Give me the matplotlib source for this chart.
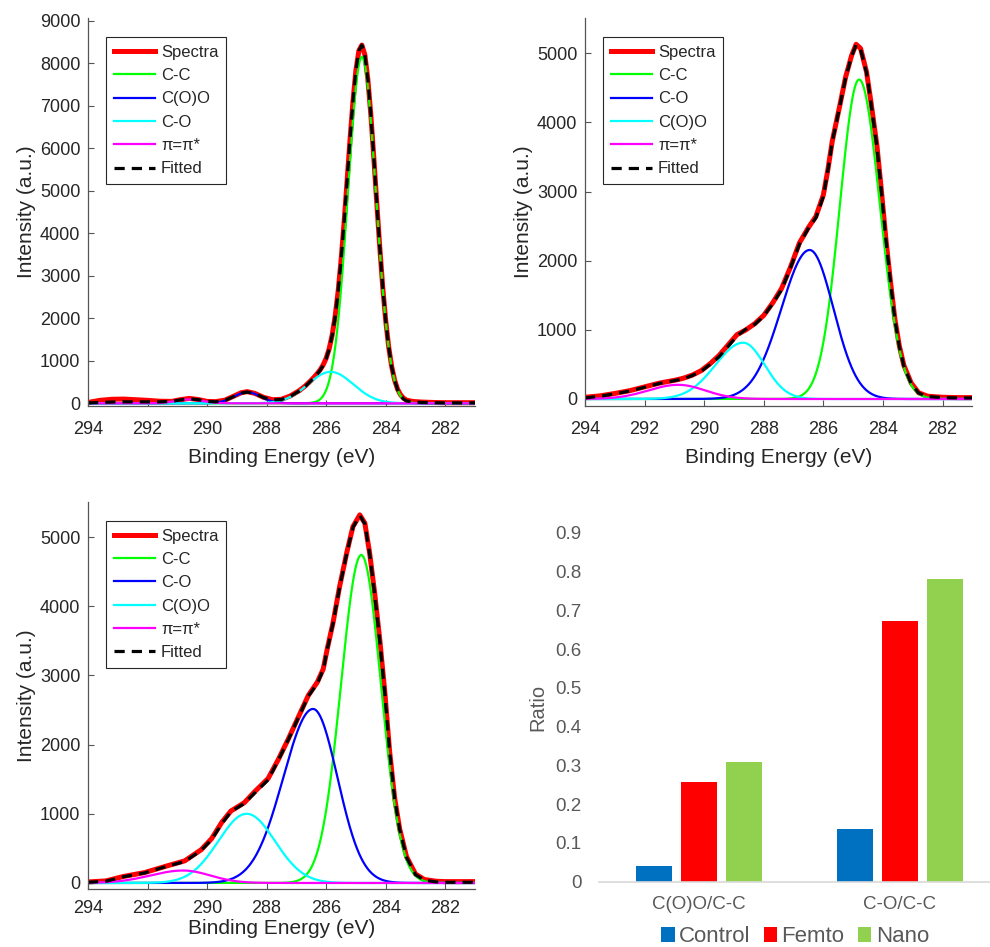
import numpy as np
import matplotlib
matplotlib.use('Agg')
import matplotlib.pyplot as plt

plt.rcParams['font.family'] = ['Liberation Sans', 'DejaVu Sans']

# ---------------- data ----------------
# panel (a): measured spectrum / fitted envelope (binding energy eV, intensity a.u.)
e1 = [294.0, 293.6, 293.2, 292.8, 292.4, 292.0, 291.6, 291.2, 290.9, 290.6, 290.3, 290.0,
      289.7, 289.4, 289.1, 288.85, 288.65, 288.4, 288.1, 287.8, 287.5, 287.2, 286.9, 286.7,
      286.5, 286.4, 286.3, 286.2, 286.1, 286.0, 285.9, 285.8, 285.7, 285.6, 285.5, 285.4,
      285.3, 285.2, 285.1, 285.0, 284.9, 284.8, 284.7, 284.6, 284.5, 284.4, 284.3, 284.2,
      284.1, 284.0, 283.9, 283.8, 283.7, 283.6, 283.5, 283.4, 283.3, 283.1, 282.8, 282.4,
      282.0, 281.5, 281.0]
spec1 = [20, 70, 95, 100, 85, 70, 50, 45, 85, 115, 90, 45,
         40, 75, 170, 250, 275, 235, 140, 85, 95, 175, 300, 410,
         545, 620, 700, 790, 905, 1060, 1280, 1600, 2040, 2620, 3360, 4230,
         5200, 6190, 7100, 7840, 8300, 8430, 8200, 7630, 6800, 5790, 4720, 3680,
         2740, 1950, 1330, 870, 545, 330, 200, 120, 75, 45, 30, 20,
         15, 15, 15]
fit1 = [10, 20, 30, 35, 35, 35, 35, 45, 80, 105, 85, 45,
        35, 70, 160, 240, 265, 230, 135, 80, 90, 165, 290, 400,
        535, 610, 690, 780, 895, 1050, 1270, 1590, 2030, 2615, 3355, 4225,
        5195, 6185, 7100, 7840, 8300, 8430, 8200, 7630, 6800, 5790, 4720, 3680,
        2740, 1950, 1330, 865, 540, 322, 185, 100, 55, 35, 20, 15,
        10, 10, 10]
# fitted components: name, centre, height, width below / above centre
comp1_names = ['C-C', 'C(O)O', 'C-O', 'π=π*']
comp1_center = [284.8, 288.65, 285.85, 290.6]
comp1_height = [8150, 260, 740, 90]
comp1_sig_lo = [0.47, 0.45, 0.76, 0.45]
comp1_sig_hi = [0.47, 0.45, 0.76, 0.45]

# panel (b)
e2 = [294.0, 293.5, 293.0, 292.5, 292.0, 291.5, 291.0, 290.7, 290.4, 290.1, 289.8, 289.5,
      289.2, 288.9, 288.6, 288.3, 288.0, 287.7, 287.4, 287.1, 286.8, 286.5, 286.25, 286.0,
      285.85, 285.7, 285.45, 285.25, 285.05, 284.9, 284.75, 284.55, 284.4, 284.2, 284.05,
      283.9, 283.75, 283.6, 283.45, 283.3, 283.05, 282.8, 282.5, 282.0, 281.5, 281.0]
spec2 = [25, 45, 80, 120, 175, 230, 270, 300, 345, 410, 510, 630,
         780, 930, 1000, 1090, 1210, 1390, 1600, 1910, 2260, 2480, 2640, 2950,
         3310, 3730, 4240, 4660, 4970, 5130, 5070, 4730, 4290, 3660, 3010,
         2310, 1710, 1160, 770, 490, 230, 90, 40, 25, 20, 20]
fit2 = [15, 40, 75, 115, 170, 225, 265, 290, 340, 400, 500, 610,
        760, 910, 1010, 1080, 1200, 1380, 1580, 1900, 2240, 2470, 2620, 2930,
        3300, 3720, 4230, 4650, 4960, 5120, 5060, 4720, 4280, 3650, 3000,
        2300, 1700, 1150, 760, 480, 220, 85, 35, 20, 15, 15]
comp2_names = ['C-C', 'C-O', 'C(O)O', 'π=π*']
comp2_center = [284.8, 286.46, 288.69, 290.87]
comp2_height = [4620, 2155, 814, 205]
comp2_sig_lo = [0.70, 0.80, 0.72, 0.90]
comp2_sig_hi = [0.645, 0.95, 0.93, 1.0]

# panel (c)
e3 = [294.0, 293.4, 292.8, 292.1, 291.4, 290.75, 290.2, 289.85, 289.5, 289.2, 288.75, 288.4,
      287.95, 287.6, 287.25, 286.9, 286.6, 286.3, 286.1, 285.95, 285.77, 285.55, 285.3, 285.1,
      284.87, 284.7, 284.54, 284.37, 284.2, 284.03, 283.87, 283.7, 283.53, 283.3, 283.0,
      282.7, 282.3, 282.0, 281.5, 281.0]
spec3 = [15, 30, 95, 150, 240, 320, 480, 640, 880, 1040, 1160, 1320,
         1510, 1790, 2100, 2430, 2710, 2900, 3090, 3410, 3760, 4280, 4790, 5150,
         5320, 5200, 4770, 4190, 3520, 2760, 1910, 1230, 780, 380, 130,
         50, 25, 20, 20, 20]
fit3 = [10, 25, 90, 145, 235, 310, 470, 625, 860, 1030, 1150, 1300,
        1490, 1780, 2090, 2420, 2700, 2880, 3080, 3400, 3750, 4270, 4780, 5140,
        5310, 5190, 4760, 4180, 3510, 2750, 1900, 1220, 770, 370, 120,
        40, 15, 10, 10, 10]
comp3_names = ['C-C', 'C-O', 'C(O)O', 'π=π*']
comp3_center = [284.82, 286.44, 288.67, 290.8]
comp3_height = [4740, 2515, 1000, 180]
comp3_sig_lo = [0.66, 0.82, 0.95, 0.90]
comp3_sig_hi = [0.68, 1.0, 0.95, 1.1]

# panel (d): peak area ratios
ratio_groups = ['C(O)O/C-C', 'C-O/C-C']
ratio_control = [0.041, 0.135]
ratio_femto = [0.256, 0.672]
ratio_nano = [0.308, 0.780]

# ---------------- figure ----------------
W, H = 990, 947
fig = plt.figure(figsize=(W / 100, H / 100), dpi=100)

AX_COL = '#555555'
TXT = '#262626'


def px_axes(left, top, right, bottom):
    return fig.add_axes([left / W, 1 - bottom / H, (right - left) / W, (bottom - top) / H])


def xps_panel(ax, e, spec, fit, names, cols, cen, hgt, slo, shi, ylim, ymax_tick,
              xpad=11, xlabpad=7):
    x = np.linspace(294, 281, 1301)
    ax.plot(e, spec, color='red', lw=3.6, label='Spectra', solid_joinstyle='round')
    for n, c, ce, h, a, b in zip(names, cols, cen, hgt, slo, shi):
        s = np.where(x < ce, a, b)
        ax.plot(x, h * np.exp(-(x - ce) ** 2 / (2 * s ** 2)), color=c, lw=1.6, label=n)
    ax.plot(e, fit, color='black', lw=2.3, ls=(0, (3.2, 2.2)), label='Fitted')

    ax.set_xlim(294, 281)
    ax.set_ylim(*ylim)
    ax.set_xticks(np.arange(294, 281, -2))
    ax.set_yticks(np.arange(0, ymax_tick + 1, 1000))
    for side in ['top', 'right']:
        ax.spines[side].set_visible(False)
    for side in ['left', 'bottom']:
        ax.spines[side].set_color(AX_COL)
        ax.spines[side].set_linewidth(0.9)
    ax.tick_params(direction='in', length=4, width=0.8, color=AX_COL,
                   labelsize=13, labelcolor=TXT)
    ax.tick_params(axis='x', pad=xpad)
    ax.tick_params(axis='y', pad=5.5)
    ax.set_xlabel('Binding Energy (eV)', fontsize=15, color=TXT, labelpad=xlabpad)
    ax.set_ylabel('Intensity (a.u.)', fontsize=15, color=TXT, labelpad=3)

    leg = ax.legend(loc='upper left', bbox_to_anchor=(18 / 387, 1 - 19 / 387),
                    borderaxespad=0, fontsize=12, handlelength=2.5,
                    handletextpad=0.35, labelspacing=0.5, borderpad=0.45,
                    fancybox=False, framealpha=1, edgecolor=TXT)
    leg.get_frame().set_linewidth(0.8)
    for t in leg.get_texts():
        t.set_color(TXT)


ax1 = px_axes(88, 18.3, 475, 405.7)
xps_panel(ax1, e1, spec1, fit1, comp1_names, ['#00ff00', '#0000ff', '#00ffff', '#ff00ff'],
          comp1_center, comp1_height, comp1_sig_lo, comp1_sig_hi, (-56, 9060), 9000)

ax2 = px_axes(585, 18.3, 972.3, 405.7)
xps_panel(ax2, e2, spec2, fit2, comp2_names, ['#00ff00', '#0000ff', '#00ffff', '#ff00ff'],
          comp2_center, comp2_height, comp2_sig_lo, comp2_sig_hi, (-97, 5506), 5000)

# bottom panel: x label sits at the lower edge, squeeze it in
ax3 = px_axes(88, 502, 475, 889)
xps_panel(ax3, e3, spec3, fit3, comp3_names, ['#00ff00', '#0000ff', '#00ffff', '#ff00ff'],
          comp3_center, comp3_height, comp3_sig_lo, comp3_sig_hi, (-87, 5506), 5000,
          xpad=8, xlabpad=1)

# bar chart (Excel look)
ax4 = px_axes(598.5, 532.7, 1000.5, 881.7)
xb = np.arange(len(ratio_groups))
bw = 0.18
ax4.bar(xb - 0.222, ratio_control, bw, color='#0070C0', label='Control')
ax4.bar(xb, ratio_femto, bw, color='#FF0000', label='Femto')
ax4.bar(xb + 0.222, ratio_nano, bw, color='#92D050', label='Nano')
ax4.set_xlim(-0.5, 1.5)
ax4.set_ylim(0, 0.9)
ax4.set_yticks(np.arange(0, 0.91, 0.1))
ax4.set_yticklabels(['0'] + [f'{v:.1f}' for v in np.arange(0.1, 0.91, 0.1)])
ax4.set_xticks(xb)
ax4.set_xticklabels(ratio_groups)
for side in ['top', 'right', 'left']:
    ax4.spines[side].set_visible(False)
ax4.spines['bottom'].set_color('#D9D9D9')
ax4.spines['bottom'].set_linewidth(1.2)
ax4.tick_params(length=0, labelsize=13.5, labelcolor='#595959')
ax4.tick_params(axis='y', pad=12)
ax4.tick_params(axis='x', pad=10)
ax4.set_ylabel('Ratio', fontsize=14.5, color='#595959', labelpad=6)
ax4.legend(loc='center', bbox_to_anchor=(0.489, -0.158), ncol=3, frameon=False,
           fontsize=16, handlelength=0.6, handleheight=0.6, handletextpad=0.2,
           columnspacing=0.6, labelcolor='#595959', borderaxespad=0)

fig.savefig('out.png', dpi=100, facecolor='white')
